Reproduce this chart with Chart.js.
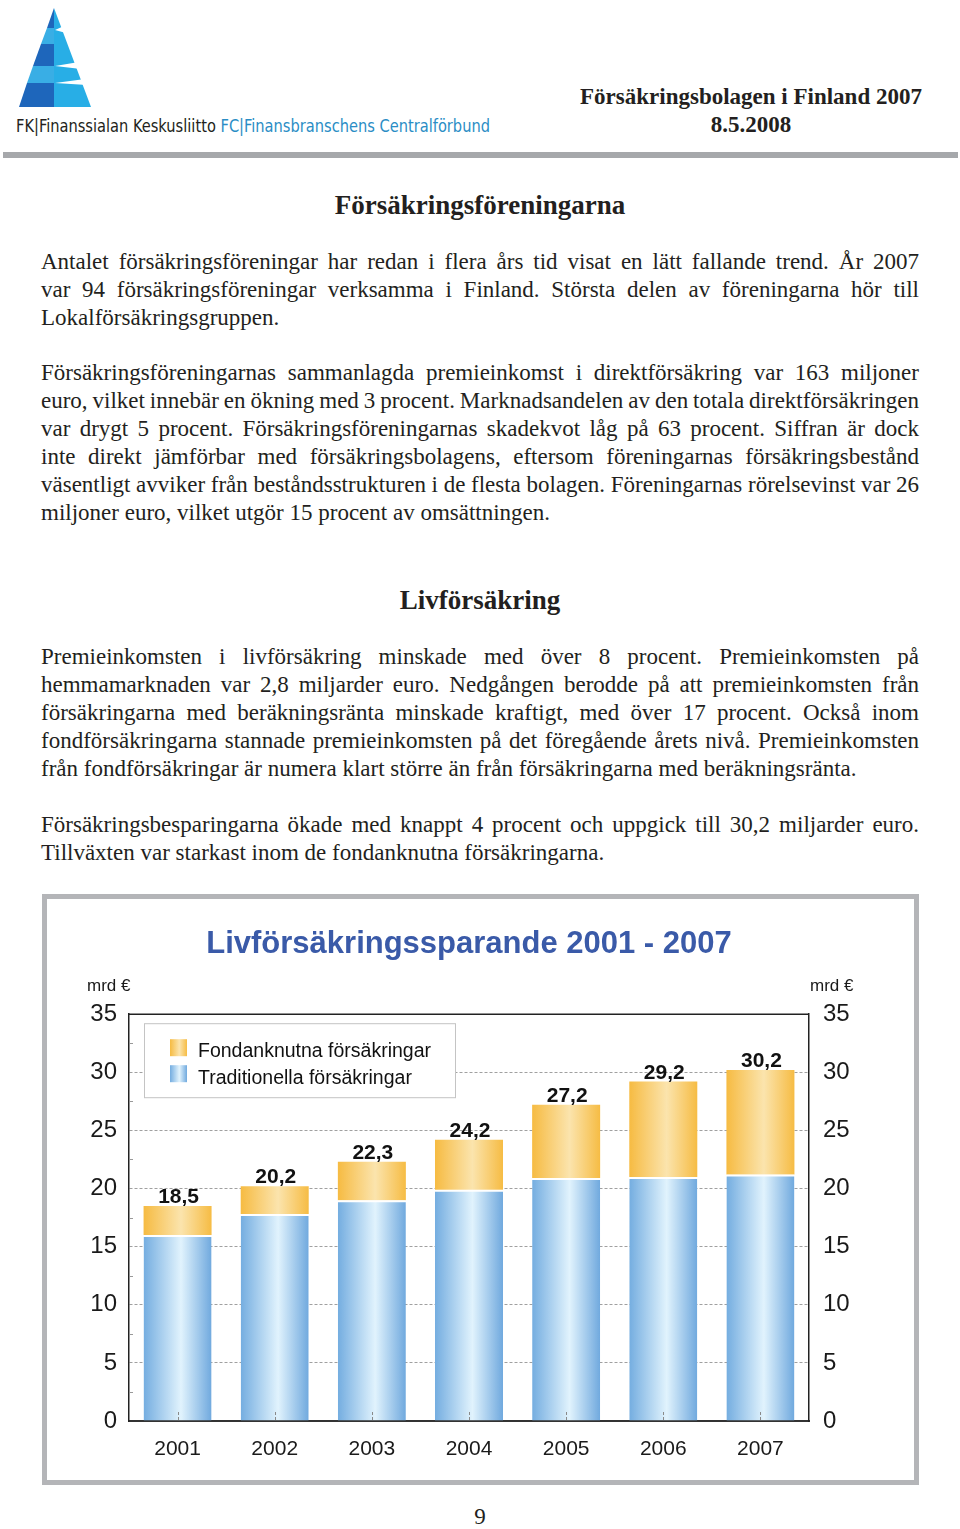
<!DOCTYPE html>
<html lang="sv">
<head>
<meta charset="utf-8">
<title>Försäkringsbolagen i Finland 2007</title>
<script src="https://cdn.jsdelivr.net/npm/chart.js@4.4.1/dist/chart.umd.min.js"></script>
<style>
    body { margin: 0; background: #fff; }
    #page { position: relative; width: 960px; height: 1529px; overflow: hidden;
            font-family: "Liberation Serif", "Times New Roman", serif; color: #231f20; }
    .abs { position: absolute; }
    .line { position: absolute; left: 41px; width: 878px; height: 28px; line-height: 28px;
            font-size: 23px; white-space: nowrap; }
    .heading { position: absolute; left: 0; width: 960px; text-align: center; font-weight: bold;
               font-size: 27px; line-height: 32px; }
    #logotext { position: absolute; left: 16px; top: 116px; font-family: "Liberation Sans Narrow", "DejaVu Sans Condensed", sans-serif;
                font-size: 17px; line-height: 20px; white-space: nowrap; transform-origin: left top; }
    #logotext .fc { color: #2a8dc5; }
    #headtitle { position: absolute; left: 560px; width: 382px; top: 83px; text-align: center;
                 font-weight: bold; font-size: 23px; line-height: 28px; }
    #greybar { position: absolute; left: 3px; top: 152px; width: 955px; height: 6px; background: #a6a8ab; }
    #chartbox { position: absolute; left: 42px; top: 894px; width: 867px; height: 581px;
                border: 5px solid #b4b5b8; background: #fff; }
    #chartbox canvas { display: block; }
    #pagenum { position: absolute; left: 0; width: 960px; top: 1503px; text-align: center; font-size: 23px; line-height: 28px; }
</style>
</head>
<body>
<div id="page">
    <svg class="abs" style="left:0;top:0" width="120" height="112" viewBox="0 0 120 112">
        <!-- right side, cyan -->
        <polygon points="54,8 91,107 54,107" fill="#28aee6"/>
        <!-- left side, bands -->
        <polygon points="54,8 54,28 47,28" fill="#1e66bb"/>
        <polygon points="47,28 54,28 54,44 41,44" fill="#39aee5"/>
        <polygon points="41,44 54,44 54,66 33,66" fill="#1e66bb"/>
        <polygon points="33,66 54,66 54,83 27,83" fill="#39aee5"/>
        <polygon points="27,83 54,83 54,107 19,107" fill="#1e66bb"/>
        <!-- white notches forming the E -->
        <polygon points="64,26 55,30 66,33" fill="#fff"/>
        <polygon points="79,62 55,66 81,69" fill="#fff"/>
        <polygon points="85,79 55,83 87,85" fill="#fff"/>
    </svg>
    <div id="logotext">FK|Finanssialan Keskusliitto <span class="fc">FC|Finansbranschens Centralförbund</span></div>
    <div id="headtitle">Försäkringsbolagen i Finland 2007<br>8.5.2008</div>
    <div id="greybar"></div>

    <div class="heading" style="top:189px">Försäkringsföreningarna</div>

    <div class="line j" style="top:248px"><span>Antalet försäkringsföreningar har redan i flera års tid visat en lätt fallande trend. År 2007</span></div>
    <div class="line j" style="top:276px"><span>var 94 försäkringsföreningar verksamma i Finland. Största delen av föreningarna hör till</span></div>
    <div class="line" style="top:304px"><span>Lokalförsäkringsgruppen.</span></div>

    <div class="line j" style="top:359px"><span>Försäkringsföreningarnas sammanlagda premieinkomst i direktförsäkring var 163 miljoner</span></div>
    <div class="line j" style="top:387px"><span>euro, vilket innebär en ökning med 3 procent. Marknadsandelen av den totala direktförsäkringen</span></div>
    <div class="line j" style="top:415px"><span>var drygt 5 procent. Försäkringsföreningarnas skadekvot låg på 63 procent. Siffran är dock</span></div>
    <div class="line j" style="top:443px"><span>inte direkt jämförbar med försäkringsbolagens, eftersom föreningarnas försäkringsbestånd</span></div>
    <div class="line j" style="top:471px"><span>väsentligt avviker från beståndsstrukturen i de flesta bolagen. Föreningarnas rörelsevinst var 26</span></div>
    <div class="line" style="top:499px"><span>miljoner euro, vilket utgör 15 procent av omsättningen.</span></div>

    <div class="heading" style="top:584px">Livförsäkring</div>

    <div class="line j" style="top:643px"><span>Premieinkomsten i livförsäkring minskade med över 8 procent. Premieinkomsten på</span></div>
    <div class="line j" style="top:671px"><span>hemmamarknaden var 2,8 miljarder euro. Nedgången berodde på att premieinkomsten från</span></div>
    <div class="line j" style="top:699px"><span>försäkringarna med beräkningsränta minskade kraftigt, med över 17 procent. Också inom</span></div>
    <div class="line j" style="top:727px"><span>fondförsäkringarna stannade premieinkomsten på det föregående årets nivå. Premieinkomsten</span></div>
    <div class="line" style="top:755px"><span>från fondförsäkringar är numera klart större än från försäkringarna med beräkningsränta.</span></div>

    <div class="line j" style="top:811px"><span>Försäkringsbesparingarna ökade med knappt 4 procent och uppgick till 30,2 miljarder euro.</span></div>
    <div class="line" style="top:839px"><span>Tillväxten var starkast inom de fondanknutna försäkringarna.</span></div>

    <div id="chartbox"><canvas id="savingsChart" width="867" height="581"></canvas></div>

    <div id="pagenum">9</div>
</div>

<script>
// Chart data
const years = ['2001', '2002', '2003', '2004', '2005', '2006', '2007'];
const traditionella = [16.0, 17.8, 19.0, 19.9, 20.9, 21.0, 21.2];
const fondanknutna = [2.5, 2.4, 3.3, 4.3, 6.3, 8.2, 9.0];
const yTicks = [0, 5, 10, 15, 20, 25, 30, 35];
const yMinorTicks = [2.5, 7.5, 12.5, 17.5, 22.5, 27.5, 32.5];

const FONT = '"Liberation Sans", Arial, Helvetica, sans-serif';
const BLUE_STOPS = ['#74ade0', '#e1f3fd', '#70a9de'];
const ORANGE_STOPS = ['#f6bb42', '#fbe4ad', '#f6bc44'];
const BAR_PCT = 0.7;

// Horizontal gradient across each bar
function barGradient(stops) {
    return function(ctx) {
        const chart = ctx.chart;
        const area = chart.chartArea;
        if (!area || ctx.type !== 'data') return stops[0];
        const x = chart.scales.x.getPixelForValue(ctx.dataIndex);
        const half = area.width / years.length * BAR_PCT / 2;
        const g = chart.ctx.createLinearGradient(x - half, 0, x + half, 0);
        g.addColorStop(0, stops[0]);
        g.addColorStop(0.55, stops[1]);
        g.addColorStop(1, stops[2]);
        return g;
    };
}

function fillSwatch(c, x, y, w, h, stops) {
    const g = c.createLinearGradient(x, 0, x + w, 0);
    g.addColorStop(0, stops[0]);
    g.addColorStop(0.55, stops[1]);
    g.addColorStop(1, stops[2]);
    c.fillStyle = g;
    c.fillRect(x, y, w, h);
}

// Extra drawing: top frame, minor ticks, unit labels, legend box, totals above bars
const decorPlugin = {
    id: 'decor',
    afterDatasetsDraw(chart) {
        const c = chart.ctx;
        const a = chart.chartArea;
        const sx = chart.scales.x, sy = chart.scales.y;
        c.save();

        c.strokeStyle = '#222';
        c.lineWidth = 1.5;
        c.beginPath();
        c.moveTo(a.left, a.top);
        c.lineTo(a.right, a.top);
        c.stroke();

        // small inward ticks on the left axis
        c.strokeStyle = '#999';
        c.lineWidth = 1;
        c.beginPath();
        yMinorTicks.forEach(v => {
            const y = Math.round(sy.getPixelForValue(v)) + 0.5;
            c.moveTo(a.left + 1, y);
            c.lineTo(a.left + 4, y);
        });
        c.stroke();

        // short dashed marks at the category centres
        c.setLineDash([3, 2]);
        c.strokeStyle = '#8a8a8a';
        c.beginPath();
        years.forEach((yr, i) => {
            const x = Math.round(sx.getPixelForValue(i)) + 0.5;
            c.moveTo(x, a.bottom - 1);
            c.lineTo(x, a.bottom - 11);
        });
        c.stroke();
        c.setLineDash([]);

        c.fillStyle = '#1a1a1a';
        c.font = '17px ' + FONT;
        c.textBaseline = 'middle';
        c.textAlign = 'left';
        c.fillText('mrd €', a.left - 42, a.top - 28);
        c.fillText('mrd €', a.right + 1, a.top - 28);

        // legend
        const lx = a.left + 15, ly = a.top + 9;
        c.fillStyle = '#fff';
        c.fillRect(lx, ly, 312, 75);
        c.strokeStyle = '#c4c4c4';
        c.lineWidth = 1;
        c.strokeRect(lx + 0.5, ly + 0.5, 311, 74);
        fillSwatch(c, a.left + 41, a.top + 25, 17, 17, ORANGE_STOPS);
        fillSwatch(c, a.left + 41, a.top + 51, 17, 17, BLUE_STOPS);
        c.fillStyle = '#111';
        c.font = '19.5px ' + FONT;
        c.fillText(chart.data.datasets[1].label, a.left + 69, a.top + 37);
        c.fillText(chart.data.datasets[0].label, a.left + 69, a.top + 64);

        // totals
        c.font = 'bold 21px ' + FONT;
        c.textAlign = 'center';
        c.textBaseline = 'alphabetic';
        years.forEach((yr, i) => {
            const total = traditionella[i] + fondanknutna[i];
            const x = sx.getPixelForValue(i);
            const y = sy.getPixelForValue(total);
            c.fillText(total.toFixed(1).replace('.', ','), x + 1, y - 3);
        });
        c.restore();
    }
};

function yAxis(position, pad, width) {
    return {
        position: position,
        stacked: position === 'left',
        min: 0,
        max: 35,
        afterBuildTicks: s => { s.ticks = yTicks.map(v => ({ value: v })); },
        grid: {
            drawTicks: false,
            drawOnChartArea: position === 'left',
            color: c => (c.tick && c.tick.value > 0 && c.tick.value < 35) ? '#a0a0a0' : 'rgba(0,0,0,0)',
            lineWidth: 1
        },
        border: { display: true, color: '#222', width: 1.5, dash: [3, 2] },
        ticks: { padding: pad, color: '#1a1a1a', font: { family: FONT, size: 24 } },
        afterFit: s => { s.width = width; }
    };
}

function initChart() {
    const ctx = document.getElementById('savingsChart').getContext('2d');
    new Chart(ctx, {
        type: 'bar',
        data: {
            labels: years,
            datasets: [{
                label: 'Traditionella försäkringar',
                data: traditionella,
                backgroundColor: barGradient(BLUE_STOPS),
                borderColor: '#ffffff',
                borderWidth: { top: 2, left: 0, right: 0, bottom: 0 },
                categoryPercentage: 1,
                barPercentage: BAR_PCT,
                yAxisID: 'y'
            }, {
                label: 'Fondanknutna försäkringar',
                data: fondanknutna,
                backgroundColor: barGradient(ORANGE_STOPS),
                borderWidth: 0,
                categoryPercentage: 1,
                barPercentage: BAR_PCT,
                yAxisID: 'y'
            }]
        },
        options: {
            responsive: false,
            animation: false,
            layout: { padding: 0 },
            plugins: {
                legend: { display: false },
                tooltip: { enabled: false },
                title: {
                    display: true,
                    fullSize: false,
                    text: 'Livförsäkringssparande 2001 - 2007',
                    color: '#3a5aa8',
                    font: { family: FONT, size: 31, weight: 'bold' },
                    padding: { top: 27, bottom: 51 }
                }
            },
            scales: {
                x: {
                    stacked: true,
                    grid: { display: true, drawOnChartArea: false, drawTicks: false },
                    border: { display: true, color: '#333', width: 2 },
                    ticks: { padding: 16, color: '#1a1a1a', font: { family: FONT, size: 21 } },
                    afterFit: s => { s.height = 59; }
                },
                y: yAxis('left', 12, 82),
                y2: yAxis('right', 14, 105)
            }
        },
        plugins: [decorPlugin]
    });
}

// Justify paragraph lines by spreading word spacing
function justifyLines() {
    document.querySelectorAll('.line.j').forEach(el => {
        const span = el.firstElementChild;
        const spaces = (span.textContent.match(/ /g) || []).length;
        const diff = 878 - span.getBoundingClientRect().width;
        if (spaces) el.style.wordSpacing = (diff / spaces) + 'px';
    });
    const logo = document.getElementById('logotext');
    logo.style.transform = 'scaleX(' + (474 / logo.getBoundingClientRect().width) + ')';
}

document.fonts.ready.then(function() {
    justifyLines();
    initChart();
});
</script>
</body>
</html>
